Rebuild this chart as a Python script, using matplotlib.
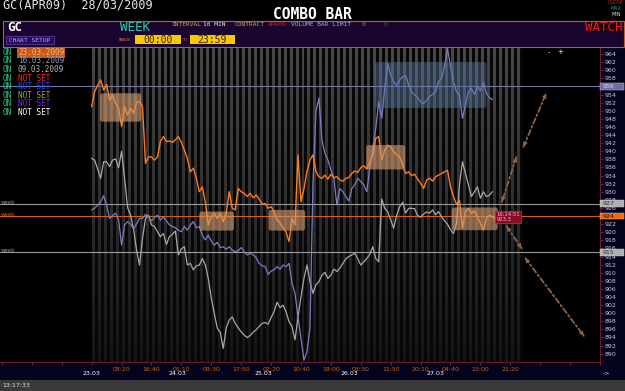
import numpy as np
import matplotlib.pyplot as plt
from matplotlib.patches import Rectangle, FancyBboxPatch
from matplotlib.transforms import blended_transform_factory

W, H = 625, 391
STEP = 5  # one reading every 5 bars (10 min bars)

# GC APR09 prices, week of 23.03.2009 and the two weeks before
week_23 = [
    951.0, 954.7, 956.3, 957.6, 955.1, 956.5, 952.6, 953.9, 951.8, 950.6,
    946.1, 951.0, 948.9, 950.6, 949.4, 952.1, 952.2, 951.0, 937.0, 938.6,
    938.6, 937.8, 938.6, 942.4, 943.6, 942.4, 942.5, 942.2, 942.8, 943.6,
    942.2, 940.3, 938.2, 934.9, 935.8, 933.3, 930.0, 931.2, 927.5, 921.8,
    923.8, 924.7, 923.4, 924.7, 922.6, 924.7, 930.0, 925.9, 925.5,
    930.8, 930.0, 929.6, 928.8, 929.6, 928.5, 929.2, 928.2, 926.9, 927.1,
    925.9, 926.3, 925.1, 923.0, 922.2, 921.0, 920.1, 917.7, 923.4, 921.8,
    939.1, 927.5, 930.8, 935.0, 937.8, 939.1, 935.0, 933.7, 933.3, 934.1,
    933.1, 934.3, 933.5, 933.7, 932.9, 932.6, 933.3, 933.5, 934.5, 935.1,
    934.8, 935.9, 936.4, 935.6, 937.3, 939.1, 943.2,
    943.6, 937.8, 940.3, 941.5, 941.1, 939.9, 939.1, 938.6, 936.6, 934.5,
    934.9, 934.0, 934.3, 933.1, 932.1, 930.8, 932.9, 933.3, 932.6, 933.7,
    934.1, 934.5, 934.9, 935.3, 931.2, 928.8, 926.9, 927.9, 921.0, 925.1,
    925.9, 924.7, 925.2, 923.8, 922.2, 920.5, 923.4, 924.2, 923.8, 923.3,
]
week_16 = [
    925.5, 925.9, 926.7, 927.5, 929.0, 926.7, 923.4, 924.1, 924.7, 923.0,
    916.8, 921.8, 922.6, 922.0, 920.8, 922.0, 923.4, 923.4, 924.4, 923.8,
    922.8, 923.6, 924.2, 923.0, 923.8, 922.8, 921.8, 921.4, 921.1, 920.5,
    920.1, 921.4, 920.5, 921.8, 922.6, 921.1, 921.4, 919.3, 918.1, 919.3,
    917.8, 916.8, 917.5, 916.2, 916.4, 915.8, 916.4, 915.6, 915.2,
    915.4, 916.2, 915.2, 914.4, 914.8, 914.4, 913.7, 912.3, 911.7, 911.5,
    909.6, 910.4, 910.7, 911.5, 910.9, 911.9, 911.5, 912.3, 907.4, 904.9,
    899.1, 893.8, 888.4, 890.5, 896.3, 931.7, 949.8, 953.1, 942.8, 939.5,
    937.8, 935.4, 933.3, 926.7, 930.8, 930.0, 928.8, 927.7, 930.8, 931.7,
    933.3, 932.5, 931.7, 930.0, 935.8, 940.7, 945.6,
    952.2, 948.1, 955.5, 961.7, 958.8, 957.2, 956.3, 957.6, 958.4, 958.7,
    956.3, 954.7, 953.9, 953.2, 952.2, 951.8, 952.6, 953.5, 954.0, 954.7,
    957.2, 958.0, 960.9, 965.4, 960.9, 957.2, 954.7, 953.9, 948.1, 951.4,
    954.7, 955.5, 954.0, 955.9, 954.9, 957.0, 954.3, 953.2, 952.8,
]
week_09 = [
    938.2, 937.8, 935.6, 933.3, 937.4, 937.4, 936.2, 937.8, 938.1, 935.9,
    940.0, 933.3, 926.1, 924.2, 920.8, 915.6, 911.9, 918.5, 923.4, 924.2,
    921.8, 921.4, 920.1, 918.9, 919.7, 917.0, 918.9, 919.5, 920.3, 914.4,
    915.9, 916.4, 911.9, 912.3, 910.7, 911.7, 911.9, 913.5, 911.9, 908.6,
    903.7, 900.0, 896.3, 895.3, 891.3, 896.4, 898.3, 899.1, 897.5,
    896.4, 895.4, 894.6, 894.0, 894.5, 895.3, 895.9, 896.7, 897.5, 897.7,
    897.3, 898.9, 900.4, 902.7, 901.4, 902.0, 900.4, 897.9, 896.7, 893.4,
    899.1, 904.1, 908.6, 911.9, 907.8, 904.9, 907.0, 907.8, 909.4, 910.1,
    908.6, 909.4, 910.9, 910.3, 911.1, 912.3, 913.4, 914.0, 914.4, 914.8,
    913.4, 911.9, 912.7, 913.5, 914.5, 916.4, 913.5,
    912.7, 928.2, 925.9, 925.1, 923.0, 921.0, 924.2, 926.3, 927.4, 924.7,
    925.9, 925.9, 925.8, 924.1, 923.7, 924.5, 925.0, 924.7, 925.5, 924.3,
    925.1, 923.8, 922.8, 922.0, 920.6, 919.7, 922.2, 931.7, 937.4, 934.5,
    931.7, 928.8, 930.0, 931.2, 928.4, 930.0, 928.8, 929.1, 930.0,
]

time_labels = ['08:20', '16:40', '01:10', '09:30', '17:50', '02:20', '10:40',
               '19:00', '03:30', '11:50', '20:10', '04:40', '13:00', '21:20']
day_labels = ['23.03', '24.03', '25.03', '26.03', '27.03']
day_starts = [0, 144, 287, 431, 574]

levels = [956, 927, 924, 915]

# marked zones: start bar, end bar, low, high
zones_23 = [(14, 83, 947.3, 954.3), (180, 238, 920.4, 925.1), (296, 357, 920.4, 925.5),
            (459, 524, 935.5, 941.5), (602, 679, 920.5, 926.1)]
zones_16 = [(473, 660, 950.7, 962.0)]
# projection arrows: bar, price -> bar, price
arrows = [(722, 941.1, 760, 954.3), (710, 938.5, 686, 927.5),
          (694, 921.4, 719, 916.0), (725, 913.6, 823, 894.4)]

legend_rows = ['23.03.2009', '16.03.2009', '09.03.2009', 'NOT SET', 'NOT SET',
               'NOT SET', 'NOT SET', 'NOT SET']

MONO = 'DejaVu Sans Mono'


def setup_deco(fig, z):
    a = fig.add_axes([0, 0, 1, 1], zorder=z)
    a.set_xlim(0, W)
    a.set_ylim(H, 0)
    a.axis('off')
    a.patch.set_visible(False)
    return a


def draw_background(bg):
    bg.add_patch(Rectangle((0, 362), W, 18, fc='#03031e', ec='none'))
    bg.add_patch(Rectangle((600, 47), 25, 333, fc='#03031e', ec='none'))
    bg.add_patch(Rectangle((0, 380), W, 11, fc='#3a3a3a', ec='none'))
    bg.text(2, 385.5, '13:17:33', fontsize=4.5, color='#e0e0e0', va='center')
    bg.text(603, 372.5, '->', fontsize=4.5, color='#e0e0e0', va='center')


def draw_header(fg):
    fg.text(3, 5, 'GC(APR09)  28/03/2009', fontsize=8.5, family=MONO, color='#e8e8e8', va='center')
    fg.text(312, 14.5, 'COMBO BAR', fontsize=10.5, family=MONO, weight='bold', color='white',
            ha='center', va='center')
    fg.text(616, 2.5, 'CLOSE', fontsize=3.5, color='#d02020', ha='center', va='center')
    fg.text(616, 8.5, 'MAX', fontsize=3.5, color='#20a080', ha='center', va='center')
    fg.text(616, 15, 'MIN', fontsize=3.5, color='#e0e0e0', ha='center', va='center')

    fg.add_patch(Rectangle((3, 20.5), 621, 26, fc='#1a0530', ec='#c0601c', lw=0.8))
    fg.text(7, 27.5, 'GC', fontsize=9, family=MONO, weight='bold', color='white', va='center')
    fg.add_patch(Rectangle((6, 36), 48, 8, fc='#2a0a5a', ec='#5a3aa0', lw=0.6))
    fg.text(30, 40, 'CHART SETUP', fontsize=4.5, family=MONO, color='#b8a8f0', ha='center', va='center')
    fg.text(120, 27.5, 'WEEK', fontsize=9, family=MONO, color='#30d0a0', va='center')
    fg.text(119, 40, 'RANGE', fontsize=2.5, color='#e08040', va='center')
    fg.add_patch(Rectangle((135, 35), 46, 9, fc='#f8c800', ec='none'))
    fg.text(158, 39.8, '00:00', fontsize=7, family=MONO, color='#3a2000', ha='center', va='center')
    fg.text(182, 40, 'TO', fontsize=2.5, color='#e08040', va='center')
    fg.add_patch(Rectangle((190, 35), 45, 9, fc='#f8c800', ec='none'))
    fg.text(212.5, 39.8, '23:59', fontsize=7, family=MONO, color='#3a2000', ha='center', va='center')

    head = [(171, 'INTERVAL', '#c8a070'), (203, '10 MIN', '#e8e0d0'),
            (235, 'CONTRACT', '#c8a070'), (268, 'APR09', '#d02020'),
            (291, 'VOLUME BAR LIMIT', '#a8a8d8'), (362, '0', '#b07880'), (384, '0', '#306030')]
    for x, s, c in head:
        fg.text(x, 25, s, fontsize=4.5, family=MONO, color=c, va='center')

    fg.add_patch(Rectangle((586, 22), 36, 10, fc='#1c0010', ec='none'))
    fg.text(604, 27.2, 'WATCH', fontsize=9, family=MONO, color='#f01818', ha='center', va='center')

    fg.text(548, 52, '-', fontsize=5, color='white', va='center')
    fg.text(557, 52, '+', fontsize=5, color='white', va='center')


def draw_legend(fg):
    colors = ['#f4b080', '#9898c8', '#b0b0b0', '#ff2020', '#2040ff', '#a0a040', '#8020ff', '#ffffff']
    for i, (s, c) in enumerate(zip(legend_rows, colors)):
        y = 52.3 + i * 8.6
        fg.text(3, y, 'ON', fontsize=5.5, family=MONO, color='#20d090', va='center')
        kw = {}
        if i == 0:
            kw['bbox'] = dict(boxstyle='square,pad=0.1', fc='#c85a14', ec='none')
        fg.text(18, y, s, fontsize=5.5, family=MONO, color=c, va='center', **kw)
    for y, c in [(202, '#909090'), (214, '#d06010'), (251, '#909090')]:
        fg.text(1, y, 'week', fontsize=4, color=c, va='center')


def main():
    fig = plt.figure(figsize=(W / 100, H / 100), dpi=100, facecolor='black')
    bg = setup_deco(fig, -1)
    draw_background(bg)

    ax = fig.add_axes([0, (H - 362) / H, 600 / W, 315 / H], zorder=0)
    ax.set_facecolor('black')
    ylo, yhi = 887.95, 965.73

    # striped backdrop, fading towards the bottom
    cols = (np.arange(144) % 2 == 0)
    shade = np.linspace(0.28, 0.08, 120)[:, None]
    img = 0.03 + (shade - 0.03) * cols[None, :]
    ax.imshow(img, cmap='gray', vmin=0, vmax=1, extent=(0, 720, ylo, yhi),
              aspect='auto', interpolation='nearest', zorder=0)

    ax.plot(np.arange(len(week_09)) * STEP, week_09, color='#a8a8a8', lw=0.9, zorder=2)
    ax.plot(np.arange(len(week_16)) * STEP, week_16, color='#7c7cc4', lw=0.9, zorder=2)
    ax.plot(np.arange(len(week_23)) * STEP, week_23, color='#ff7a1a', lw=1.0, zorder=3)

    level_colors = ['#7474a8', '#9a9a9a', '#d8600c', '#9a9a9a']
    for p, c in zip(levels, level_colors):
        ax.axhline(p, color=c, lw=0.8, zorder=1.5)

    asp = (1 / 4.05) / (1 / 0.6)
    for zones, fc, al in [(zones_23, '#d09a70', 0.62), (zones_16, '#5a78a0', 0.45)]:
        for x0, x1, lo, hi in zones:
            ax.add_patch(FancyBboxPatch((x0, lo), x1 - x0, hi - lo,
                                        boxstyle='round,pad=0,rounding_size=4',
                                        mutation_aspect=asp, fc=fc, ec='none', alpha=al, zorder=4))

    for x0, y0, x1, y1 in arrows:
        ax.annotate('', xy=(x1, y1), xytext=(x0, y0),
                    arrowprops=dict(arrowstyle='-', color='#8c6446', lw=1.3,
                                    linestyle=(0, (3, 1.5, 1, 1.5)), shrinkA=0, shrinkB=0), zorder=5)
        ax.annotate('', xy=(x1, y1), xytext=(x0, y0),
                    arrowprops=dict(arrowstyle='<|-|>', color='#8c6446', lw=0,
                                    mutation_scale=9, shrinkA=0, shrinkB=0), zorder=5)

    last_x = (len(week_23) - 1) * STEP
    ax.text(last_x + 2, week_23[-1] + 0.4, '16:14:51\n' + str(week_23[-1]), fontsize=3.8,
            color='#ffb0c8', va='center', ha='left', linespacing=1.0, zorder=6,
            bbox=dict(boxstyle='square,pad=0.2', fc='#8a0a28', ec='#7030d0', lw=0.6))

    ax.set_xlim(-153.3, 846.7)
    ax.set_ylim(ylo, yhi)

    # right price scale, the marked levels get their own boxed label
    ax.yaxis.tick_right()
    yt = np.arange(890, 965, 2)
    ax.set_yticks(yt)
    ax.set_yticklabels(['' if v in levels else str(v) for v in yt])
    ax.tick_params(axis='y', labelsize=4.5, length=2, pad=1, labelcolor='#c8c8dc',
                   color='#8a2a3a', width=0.6)
    tr = blended_transform_factory(ax.transAxes, ax.transData)
    box_style = [('#6c6ca4', '#d8d8f4'), ('#b0b0b0', '#303030'), ('#f06800', '#301000'), ('#b0b0b0', '#303030')]
    for p, (fc, tc) in zip(levels, box_style):
        ax.add_patch(Rectangle((1.0, p - 0.85), 0.04, 1.7, transform=tr, fc=fc, ec='#d0d0d0',
                               lw=0.3, clip_on=False, zorder=6))
        ax.text(1.004, p, str(p), transform=tr, fontsize=4.5, color=tc, va='center', ha='left',
                clip_on=False, zorder=7)

    # time scale
    ticks = np.arange(-150, 851, 50)
    ax.set_xticks(ticks)
    ax.set_xticklabels(['' if t < 50 or t > 700 else time_labels[t // 50 - 1] for t in ticks])
    ax.tick_params(axis='x', labelsize=4.5, length=2, pad=1.5, labelcolor='#c86418',
                   color='#8a2a3a', width=0.6)
    trx = blended_transform_factory(ax.transData, ax.transAxes)
    for d, lab in zip(day_starts, day_labels):
        ax.text(d, -0.038, lab, transform=trx, fontsize=4.5, color='white', ha='center', va='center')

    for s in ['top', 'left']:
        ax.spines[s].set_visible(False)
    for s in ['bottom', 'right']:
        ax.spines[s].set_color('#6a1a2a')
        ax.spines[s].set_linewidth(0.8)

    fg = setup_deco(fig, 2)
    draw_header(fg)
    draw_legend(fg)

    fig.savefig('out.png', dpi=100, facecolor='black')


if __name__ == '__main__':
    main()
